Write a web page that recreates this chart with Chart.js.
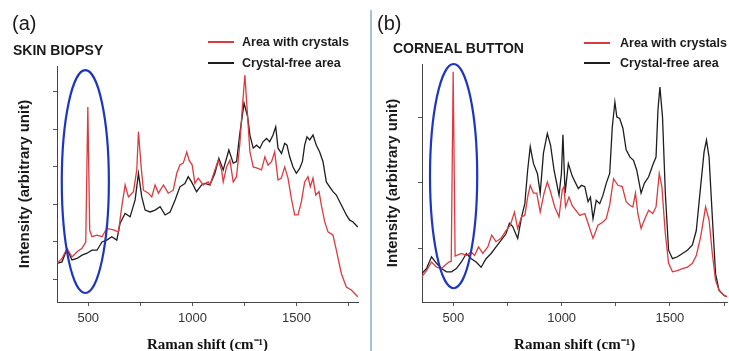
<!DOCTYPE html>
<html>
<head>
<meta charset="utf-8">
<script src="https://cdn.jsdelivr.net/npm/chart.js@4.4.1/dist/chart.umd.min.js"></script>
<style>
  html, body { margin: 0; padding: 0; background: #fff; }
  #wrap { position: relative; width: 729px; height: 351px; overflow: hidden;
          font-family: 'Liberation Sans', Arial, sans-serif; color: #1a1a1a; }
  canvas { position: absolute; top: 0; }
  #skinChart { left: 0; }
  #corneaChart { left: 372px; }
  .lbl { position: absolute; white-space: nowrap; line-height: 1; }
  .panel { font-size: 20px; }
  .ttl { font-size: 14px; font-weight: bold; }
  .leg { font-size: 12.5px; font-weight: bold; }
  .swatch { position: absolute; height: 2px; width: 26px; }
  #divider { position: absolute; left: 370px; top: 10px; width: 2px; height: 341px; background: #a9c1d3; }
</style>
</head>
<body>
<div id="wrap">
  <canvas id="skinChart" width="371" height="351"></canvas>
  <canvas id="corneaChart" width="357" height="351"></canvas>
  <div id="divider"></div>

  <div class="lbl panel" style="left:12px;top:13px;">(a)</div>
  <div class="lbl ttl" style="left:13px;top:43px;">SKIN BIOPSY</div>
  <div class="swatch" style="left:208px;top:41px;background:#dc3a3e;"></div>
  <div class="lbl leg" style="left:242px;top:36px;">Area with crystals</div>
  <div class="swatch" style="left:208px;top:62px;background:#1e1e1e;"></div>
  <div class="lbl leg" style="left:242px;top:57px;">Crystal-free area</div>

  <div class="lbl panel" style="left:377px;top:13px;">(b)</div>
  <div class="lbl ttl" style="left:393px;top:41px;">CORNEAL BUTTON</div>
  <div class="swatch" style="left:584px;top:42px;background:#dc3a3e;"></div>
  <div class="lbl leg" style="left:620px;top:37px;">Area with crystals</div>
  <div class="swatch" style="left:584px;top:62px;background:#1e1e1e;"></div>
  <div class="lbl leg" style="left:620px;top:57px;">Crystal-free area</div>
</div>

<script>
// (a) skin biopsy - Raman shift (cm-1) and intensity (arbitrary unit)
const SKIN_RED_SHIFT = [350,374,398,422,446,470,488,498,507,518,542,566,589,621,645,661,677,693,717,733,741,754,765,789,805,821,837,861,884,908,925,940,956,973,984,999,1012,1028,1052,1060,1076,1084,1108,1124,1140,1148,1164,1180,1196,1212,1228,1239,1252,1263,1276,1292,1315,1332,1348,1363,1380,1395,1411,1427,1443,1459,1475,1491,1507,1523,1539,1555,1566,1579,1592,1608,1619,1635,1651,1675,1691,1715,1739,1763,1787,1794];
const SKIN_RED = [0.42,0.55,0.82,0.59,0.73,0.82,0.99,4.59,1.30,1.13,1.17,1.13,1.35,1.31,1.26,1.93,2.51,2.19,2.33,2.91,3.93,2.99,2.37,2.29,2.19,2.51,2.29,2.51,2.29,2.37,2.82,3.04,3.09,3.39,3.17,3.04,2.55,2.69,2.51,2.55,2.59,2.51,2.91,3.17,2.91,2.59,2.99,3.17,2.59,2.73,3.62,4.51,5.44,4.51,3.40,2.99,2.95,2.91,3.26,3.04,3.13,3.39,2.64,2.69,2.99,2.69,2.15,1.71,1.71,2.06,2.59,2.73,2.46,2.69,2.24,2.33,1.97,1.53,1.26,1.17,0.77,0.15,-0.21,-0.29,-0.43,-0.47];
const SKIN_FREE_SHIFT = [350,374,398,422,446,470,494,518,542,566,589,613,637,653,677,701,725,741,757,773,797,821,845,869,893,917,940,964,980,996,1020,1044,1060,1084,1108,1127,1148,1175,1196,1212,1228,1248,1265,1276,1292,1308,1324,1339,1356,1371,1387,1400,1411,1428,1443,1454,1467,1483,1499,1515,1528,1539,1550,1563,1579,1595,1611,1627,1643,1659,1675,1691,1707,1723,1739,1755,1770,1794];
const SKIN_FREE = [0.42,0.46,0.80,0.51,0.55,0.64,0.69,0.77,0.77,0.99,1.04,1.13,1.04,1.49,1.75,1.66,2.11,2.82,2.19,1.84,1.79,1.84,1.93,1.71,1.79,2.11,2.46,2.55,2.73,2.59,2.33,2.51,2.55,2.51,2.82,3.22,2.91,3.44,3.09,3.13,3.89,4.69,4.33,3.84,3.49,3.57,3.49,3.66,3.75,3.66,3.84,4.06,3.49,3.35,3.62,3.57,3.26,2.99,2.82,2.95,3.13,3.57,3.79,3.71,3.84,3.57,3.39,3.13,2.59,2.46,2.33,2.24,2.06,1.89,1.71,1.57,1.53,1.39];

// (b) corneal button
const CORNEA_RED_SHIFT = [353,376,399,422,445,461,479,490,499,508,537,560,583,598,616,636,659,677,697,720,743,763,782,797,815,830,843,855,870,885,901,919,934,949,968,988,1003,1011,1018,1034,1049,1084,1107,1122,1145,1168,1191,1206,1222,1240,1260,1280,1298,1314,1329,1341,1352,1367,1382,1402,1421,1436,1451,1463,1479,1494,1512,1535,1558,1581,1604,1622,1642,1665,1681,1696,1711,1727,1750,1765];
const CORNEA_RED = [0.56,0.66,0.79,0.71,0.69,0.74,0.79,0.80,3.69,0.88,0.92,0.89,0.94,0.89,1.02,0.92,1.02,1.20,1.10,1.15,1.27,1.35,1.55,1.30,1.48,1.50,1.78,1.96,1.84,1.84,1.55,1.84,2.01,1.86,1.63,1.48,1.89,1.94,1.63,1.78,1.65,1.50,1.53,1.38,1.15,1.35,1.40,1.45,1.66,2.06,1.96,1.94,1.71,1.66,1.63,1.84,1.53,1.30,1.43,1.58,1.53,1.63,2.14,1.94,1.22,0.77,0.64,0.66,0.69,0.71,0.77,0.89,1.17,1.63,1.43,0.92,0.51,0.36,0.28,0.26];
const CORNEA_FREE_SHIFT = [353,376,399,422,445,468,491,514,537,560,583,605,628,651,674,697,720,743,759,774,797,815,830,843,855,870,888,901,916,934,949,965,988,999,1006,1016,1031,1049,1077,1092,1107,1122,1133,1145,1160,1176,1191,1206,1222,1234,1246,1255,1268,1283,1298,1316,1332,1347,1367,1382,1402,1421,1436,1445,1454,1466,1479,1494,1512,1535,1558,1581,1604,1622,1642,1658,1669,1681,1696,1711,1727,1750,1765];
const CORNEA_FREE = [0.61,0.69,0.87,0.77,0.69,0.64,0.64,0.69,0.79,0.92,0.84,0.79,0.71,0.84,0.92,1.02,1.12,1.22,1.38,1.33,1.15,1.48,1.68,2.19,2.55,2.29,2.14,1.84,2.45,2.75,2.57,2.19,1.81,2.14,2.73,1.84,2.29,2.10,1.91,1.96,1.94,1.71,1.78,1.45,1.73,1.68,1.81,1.99,2.14,2.85,3.23,3.00,2.98,2.83,2.50,2.39,2.34,2.19,1.84,1.99,2.09,2.27,2.39,3.11,3.46,3.00,1.84,0.97,0.84,0.87,0.92,0.97,1.05,1.27,1.94,2.47,2.65,2.39,1.48,0.61,0.36,0.28,0.26];

const SHIFT_TICKS = [500, 750, 1000, 1250, 1500, 1750];
const SKIN_INT_TICKS = [0, 1, 2, 3, 4, 5];
const CORNEA_INT_TICKS = [1, 2, 3];

const RED = '#dc3a3e';
const BLACK = '#1e1e1e';
const SANS = "'Liberation Sans', Arial, sans-serif";
const SERIF = "'Liberation Serif', 'Times New Roman', serif";

const toPoints = (xs, ys) => xs.map((x, i) => ({ x, y: ys[i] }));

// blue ring round the crystal band, given in data units
const crystalEllipse = {
  id: 'crystalEllipse',
  afterDatasetsDraw(chart, args, opts) {
    const { ctx, scales: { x, y } } = chart;
    const cx = x.getPixelForValue(opts.cx);
    const cy = y.getPixelForValue(opts.cy);
    const rx = Math.abs(x.getPixelForValue(opts.cx + opts.rx) - cx);
    const ry = Math.abs(y.getPixelForValue(opts.cy + opts.ry) - cy);
    ctx.save();
    ctx.strokeStyle = '#1d36c2';
    ctx.lineWidth = 2.2;
    ctx.beginPath();
    ctx.ellipse(cx, cy, rx, ry, 0, 0, Math.PI * 2);
    ctx.stroke();
    ctx.restore();
  },
};

const line = (label, data, color) => ({
  label,
  data,
  borderColor: color,
  backgroundColor: color,
  borderWidth: 1.3,
  pointRadius: 0,
  tension: 0,
});

const renderSpectrum = (canvasId, o) =>
  new Chart(document.getElementById(canvasId), {
    type: 'line',
    data: {
      datasets: [
        line('Area with crystals', o.red, RED),
        line('Crystal-free area', o.free, BLACK),
      ],
    },
    options: {
      responsive: false,
      animation: false,
      layout: { padding: { top: o.top, right: o.right, left: 0, bottom: 0 } },
      plugins: {
        legend: { display: false },
        tooltip: { enabled: false },
        crystalEllipse: o.ellipse,
      },
      scales: {
        x: {
          type: 'linear',
          min: o.xMin,
          max: o.xMax,
          afterFit: (s) => { s.height = 49; },
          afterBuildTicks: (s) => { s.ticks = SHIFT_TICKS.map((v) => ({ value: v })); },
          ticks: {
            callback: (v) => (v % 500 === 0 ? v : ''),
            autoSkip: false,
            maxRotation: 0,
            padding: 5,
            color: '#333',
            font: { family: SANS, size: 13 },
          },
          grid: { drawOnChartArea: false, tickLength: 4, color: '#555' },
          border: { color: '#444', width: 1 },
          title: {
            display: true,
            text: 'Raman shift (cm⁻¹)',
            color: '#111',
            padding: 0,
            font: { family: SERIF, size: 15, weight: 'bold', lineHeight: 0.82 },
          },
        },
        y: {
          min: o.yMin,
          max: o.yMax,
          afterFit: (s) => { s.width = o.yWidth; },
          afterBuildTicks: (s) => { s.ticks = o.yTicks.map((v) => ({ value: v })); },
          ticks: { display: false },
          grid: { drawOnChartArea: false, tickLength: 4, color: '#555' },
          border: { color: '#444', width: 1 },
          title: {
            display: true,
            text: 'Intensity (arbitrary unit)',
            color: '#1a1a1a',
            padding: { top: o.titlePad, bottom: 0 },
            font: { family: SANS, size: 15, weight: 'bold' },
          },
        },
      },
    },
    plugins: [crystalEllipse],
  });

renderSpectrum('skinChart', {
  red: toPoints(SKIN_RED_SHIFT, SKIN_RED),
  free: toPoints(SKIN_FREE_SHIFT, SKIN_FREE),
  xMin: 350, xMax: 1795,
  yMin: -0.61, yMax: 5.68,
  yTicks: SKIN_INT_TICKS,
  top: 66, right: 13, yWidth: 57, titlePad: 16,
  ellipse: { cx: 486, cy: 2.6, rx: 113, ry: 2.97 },
});

renderSpectrum('corneaChart', {
  red: toPoints(CORNEA_RED_SHIFT, CORNEA_RED),
  free: toPoints(CORNEA_FREE_SHIFT, CORNEA_FREE),
  xMin: 355, xMax: 1765,
  yMin: 0.18, yMax: 3.81,
  yTicks: CORNEA_INT_TICKS,
  top: 64, right: 0, yWidth: 50, titlePad: 12,
  ellipse: { cx: 501, cy: 2.1, rx: 109, ry: 1.71 },
});
</script>
</body>
</html>
